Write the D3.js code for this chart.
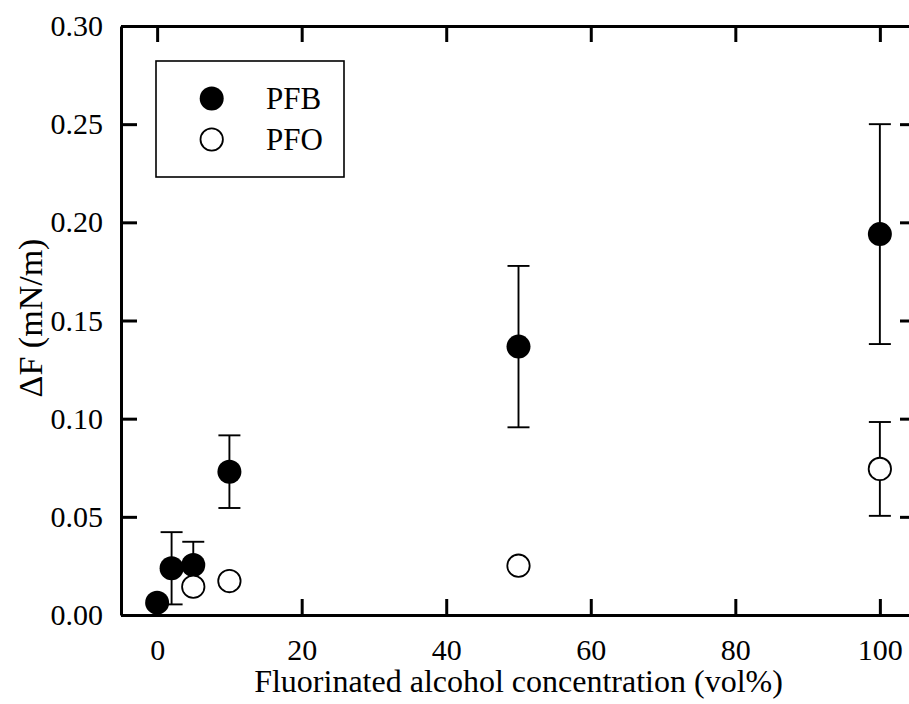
<!DOCTYPE html>
<html>
<head>
<meta charset="utf-8">
<script src="https://cdn.jsdelivr.net/npm/d3@7/dist/d3.min.js"></script>
<style>
  html, body { margin: 0; padding: 0; background: #fff; }
  svg { display: block; }
  svg text { font-family: "Liberation Serif", "Times New Roman", "DejaVu Serif", serif !important; fill: #000; }
</style>
</head>
<body>
<svg id="chart" width="909" height="704"></svg>
<script>
// Surface pressure change vs. fluorinated alcohol concentration
const concPFB = [0, 2, 5, 10, 50, 100];
const valPFB  = [0.0063, 0.0238, 0.0255, 0.0730, 0.1367, 0.1940];
const errPFB  = [0, 0.0184, 0.0118, 0.0185, 0.0411, 0.0560];

const concPFO = [5, 10, 50, 100];
const valPFO  = [0.0144, 0.0173, 0.0251, 0.0744];
const errPFO  = [0, 0, 0, 0.0239];

const xTicks = [0, 20, 40, 60, 80, 100];
const yTicks = [0, 0.05, 0.10, 0.15, 0.20, 0.25, 0.30];

const seriesNames = ["PFB", "PFO"];
const xTitle = "Fluorinated alcohol concentration (vol%)";
const yTitle = "\u0394F (mN/m)";

const svg = d3.select("#chart");
const plotL = 121, plotR = 916, plotT = 26, plotB = 615;

const x = d3.scaleLinear().domain([-5, 105]).range([plotL, plotR]);
const y = d3.scaleLinear().domain([0, 0.30]).range([plotB, plotT]);

const tickLen = 16;
const axisStroke = 3;

function styleAxis(g) {
  g.attr("font-family", null);
  g.selectAll(".domain").attr("stroke", "#000").attr("stroke-width", axisStroke);
  g.selectAll(".tick line").attr("stroke", "#000").attr("stroke-width", axisStroke);
  g.selectAll(".tick text").style("font-size", "30px").attr("fill", "#000");
}

// bottom axis
svg.append("g")
  .attr("transform", `translate(0,${plotB})`)
  .call(d3.axisBottom(x).tickValues(xTicks).tickFormat(d3.format("d"))
        .tickSize(-tickLen).tickSizeOuter(0).tickPadding(24))
  .call(styleAxis);

// top axis (ticks only)
svg.append("g")
  .attr("transform", `translate(0,${plotT})`)
  .call(d3.axisTop(x).tickValues(xTicks).tickFormat("")
        .tickSize(-tickLen).tickSizeOuter(0))
  .call(styleAxis);

// left axis
svg.append("g")
  .attr("transform", `translate(${plotL},0)`)
  .call(d3.axisLeft(y).tickValues(yTicks).tickFormat(d3.format(".2f"))
        .tickSize(-tickLen).tickSizeOuter(0).tickPadding(18))
  .call(styleAxis);

// right axis (ticks only)
svg.append("g")
  .attr("transform", `translate(${plotR},0)`)
  .call(d3.axisRight(y).tickValues(yTicks).tickFormat("")
        .tickSize(-tickLen).tickSizeOuter(0))
  .call(styleAxis);

// axis titles
svg.append("text")
  .attr("x", (x(0) + x(100)) / 2)
  .attr("y", 692)
  .attr("text-anchor", "middle")
  .style("font-size", "32px")
  .text(xTitle);

svg.append("text")
  .attr("transform", "translate(42,318) rotate(-90)")
  .attr("text-anchor", "middle")
  .style("font-size", "34px")
  .text(yTitle);

// data layers
const r = 12, capW = 11;

function drawSeries(conc, vals, errs, filled) {
  const pts = conc.map((c, i) => ({ c, v: vals[i], e: errs[i] }));
  const g = svg.append("g");
  const eb = g.selectAll("g.err").data(pts.filter(d => d.e > 0)).join("g");
  eb.append("line")
    .attr("x1", d => x(d.c)).attr("x2", d => x(d.c))
    .attr("y1", d => y(d.v - d.e)).attr("y2", d => y(d.v + d.e))
    .attr("stroke", "#000").attr("stroke-width", 1.9);
  eb.append("line")
    .attr("x1", d => x(d.c) - capW).attr("x2", d => x(d.c) + capW)
    .attr("y1", d => y(d.v + d.e)).attr("y2", d => y(d.v + d.e))
    .attr("stroke", "#000").attr("stroke-width", 1.9);
  eb.append("line")
    .attr("x1", d => x(d.c) - capW).attr("x2", d => x(d.c) + capW)
    .attr("y1", d => y(d.v - d.e)).attr("y2", d => y(d.v - d.e))
    .attr("stroke", "#000").attr("stroke-width", 1.9);
  g.selectAll("circle").data(pts).join("circle")
    .attr("cx", d => x(d.c)).attr("cy", d => y(d.v))
    .attr("r", filled ? r : r - 0.8)
    .attr("fill", filled ? "#000" : "#fff")
    .attr("stroke", "#000").attr("stroke-width", filled ? 0 : 1.8);
}

drawSeries(concPFB, valPFB, errPFB, true);
drawSeries(concPFO, valPFO, errPFO, false);

// legend
const lg = svg.append("g");
lg.append("rect")
  .attr("x", 156).attr("y", 61).attr("width", 188).attr("height", 116)
  .attr("fill", "#fff").attr("stroke", "#000").attr("stroke-width", 1.6);
seriesNames.forEach((name, i) => {
  const cy = 98.5 + i * 41;
  lg.append("circle")
    .attr("cx", 211.7).attr("cy", cy).attr("r", i === 0 ? r : r - 0.8)
    .attr("fill", i === 0 ? "#000" : "#fff")
    .attr("stroke", "#000").attr("stroke-width", i === 0 ? 0 : 1.8);
  lg.append("text")
    .attr("x", 266).attr("y", cy + 10)
    .style("font-size", "31px")
    .text(name);
});
</script>
</body>
</html>
